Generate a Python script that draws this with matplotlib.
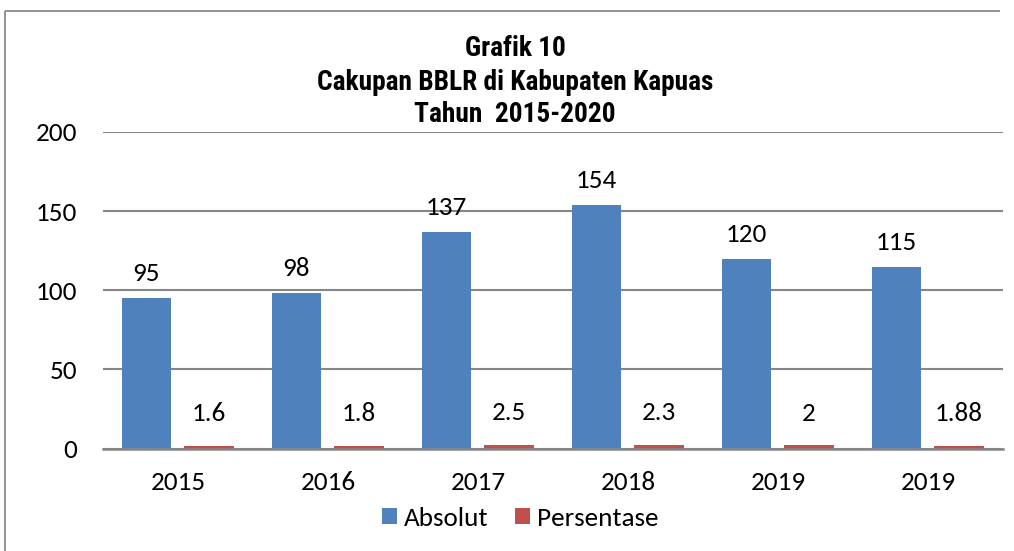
import matplotlib
matplotlib.use("Agg")
import matplotlib.pyplot as plt
from matplotlib import font_manager
from matplotlib.lines import Line2D
import numpy as np

categories = ["2015", "2016", "2017", "2018", "2019", "2019"]
absolut = [95, 98, 137, 154, 120, 115]
persentase = [1.6, 1.8, 2.5, 2.3, 2, 1.88]
persentase_labels = ["1.6", "1.8", "2.5", "2.3", "2", "1.88"]
yticks = [0, 50, 100, 150, 200]
title_lines = ["Grafik 10", "Cakupan BBLR di Kabupaten Kapuas", "Tahun  2015-2020"]

BLUE = "#4F81BD"
RED = "#C0504D"
GRID = "#868686"
W, H = 1014, 551

available = set(f.name for f in font_manager.fontManager.ttflist)


def pick(cands):
    for c in cands:
        if c in available:
            return c
    return "DejaVu Sans"


BODY = pick(["Carlito", "Lato", "Noto Sans"])
TITLE = pick(["Roboto Condensed", "PT Sans Narrow", "Archivo Narrow",
              "Liberation Sans Narrow", "Open Sans Condensed", "IBM Plex Sans Condensed"])

plt.rcParams['font.family'] = [BODY, 'DejaVu Sans']

fig = plt.figure(figsize=(W / 100, H / 100), dpi=100)
fig.patch.set_facecolor("white")
fig.patch.set_edgecolor("white")
fig.patch.set_linewidth(0)
renderer = fig.canvas.get_renderer()


def fit_size(text, target_px, family, weight="normal", base=20):
    t = fig.text(0, 0, text, fontsize=base, family=family, fontweight=weight)
    w = t.get_window_extent(renderer=renderer).width
    t.remove()
    return base * target_px / w


FS = fit_size("2015", 55, [BODY, "DejaVu Sans"])
TFS = fit_size(title_lines[1], 396, [TITLE, "DejaVu Sans"], weight="bold")
EM = FS * 100 / 72  # px per em

# outer frame: only the top and left edges fall inside the picture
fig.add_artist(Line2D([4.5 / W, 1000 / W], [1 - 10.5 / H, 1 - 10.5 / H], transform=fig.transFigure,
                      color="#8a8a8a", linewidth=1.3, solid_capstyle="butt"))
fig.add_artist(Line2D([4.5 / W, 4.5 / W], [-0.02, 1 - 10.5 / H], transform=fig.transFigure,
                      color="#8a8a8a", linewidth=1.3, solid_capstyle="butt"))

ax = fig.add_axes([103 / W, (H - 448.5) / H, 900 / W, 316.5 / H])
ax.patch.set_visible(False)
x = np.arange(len(categories))
bw = 0.333
b1 = ax.bar(x - 0.21, absolut, width=bw, color=BLUE, zorder=3, label="Absolut")
b2 = ax.bar(x + 0.207, persentase, width=bw, color=RED, zorder=3, label="Persentase")

ax.set_xlim(-0.5, len(categories) - 0.5)
ax.set_ylim(0, 200)
ax.set_yticks(yticks)
ax.set_yticklabels([str(v) for v in yticks])
ax.set_xticks(x)
ax.set_xticklabels(categories)
ax.tick_params(axis="both", length=0, labelsize=FS, colors="black")
ax.tick_params(axis="y", pad=26 * 0.72)
ax.tick_params(axis="x", pad=23 * 0.72)
ax.yaxis.grid(True, color=GRID, linewidth=1.5, zorder=0)
ax.set_axisbelow(True)
for s in ["top", "right", "left"]:
    ax.spines[s].set_visible(False)
ax.spines["bottom"].set_color(GRID)
ax.spines["bottom"].set_linewidth(1.8)
ax.spines["bottom"].set_zorder(4)

for xi, v in zip(x, absolut):
    ax.annotate(str(v), (xi - 0.21, v), xytext=(0, 24.5 * 0.72), textcoords="offset points",
                ha="center", va="center", fontsize=FS)
for xi, v, lab in zip(x, persentase, persentase_labels):
    ax.annotate(lab, (xi + 0.207, v), xytext=(0, 32 * 0.72), textcoords="offset points",
                ha="center", va="center", fontsize=FS)

# title
title_y = [49, 83, 114]
for line, yy in zip(title_lines, title_y):
    fig.text(515 / W, 1 - yy / H, line, ha="center", va="center",
             fontsize=TFS, fontweight="bold", family=[TITLE, "DejaVu Sans"])

leg = fig.legend(handles=[b1, b2], labels=["Absolut", "Persentase"], loc="center",
                 bbox_to_anchor=(520 / W, 1 - 518 / H), ncol=2, frameon=False,
                 fontsize=FS, handlelength=15 / EM, handleheight=15 / EM,
                 handletextpad=7 / EM, columnspacing=27 / EM)

fig.savefig("out.png", dpi=100)
